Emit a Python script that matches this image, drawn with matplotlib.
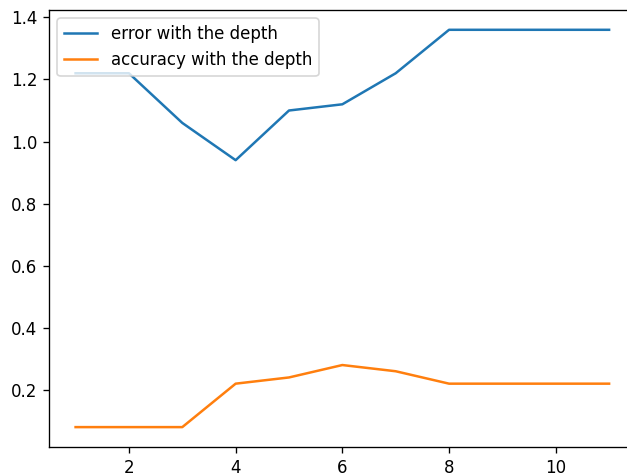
import matplotlib
matplotlib.use('Agg')
import matplotlib.pyplot as plt

# Depth values on the x axis
depth = [1, 2, 3, 4, 5, 6, 7, 8, 9, 10, 11]

# Error and accuracy
error = [1.22, 1.22, 1.06, 0.94, 1.10, 1.12, 1.22, 1.36, 1.36, 1.36, 1.36]
accuracy = [0.08, 0.08, 0.08, 0.22, 0.24, 0.28, 0.26, 0.22, 0.22, 0.22, 0.22]

# Reference looks like a slightly zoomed screenshot, so use a higher dpi
fig = plt.figure(figsize=(627 / 120, 473 / 120), dpi=120)
ax = fig.add_axes([0.078, 0.055, 1.014 - 0.078, 0.979 - 0.055])

ax.plot(depth, error, label='error with the depth')
ax.plot(depth, accuracy, label='accuracy with the depth')
ax.legend(loc='upper left')

fig.savefig('out.png')
